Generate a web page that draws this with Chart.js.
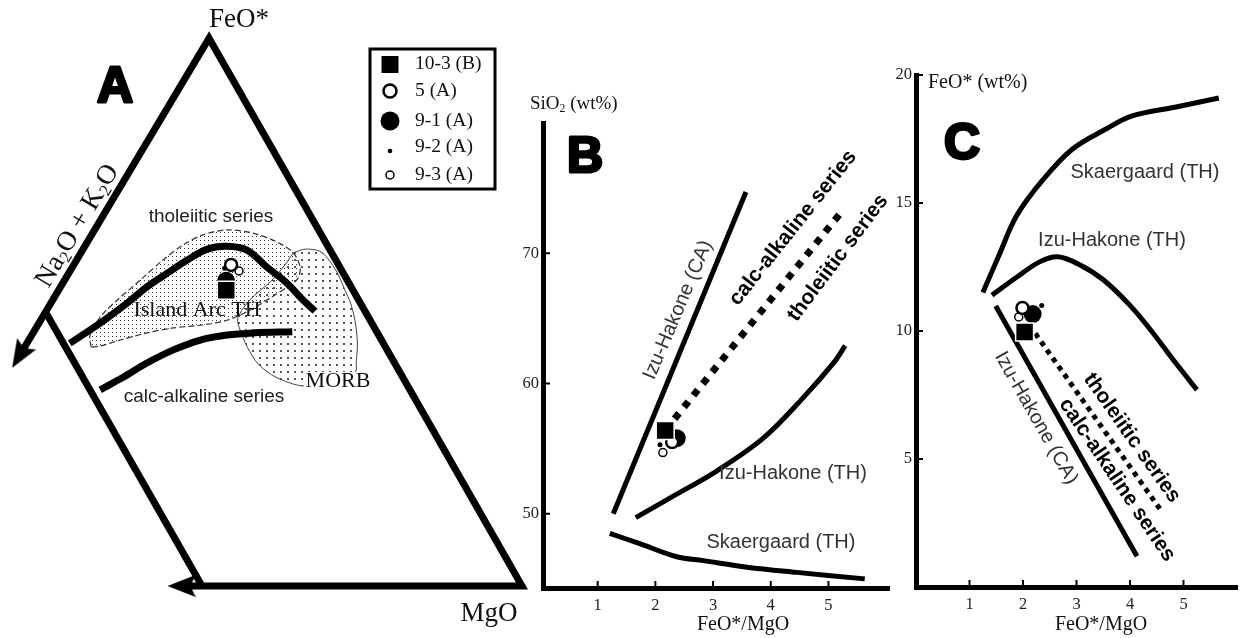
<!DOCTYPE html>
<html>
<head>
<meta charset="utf-8">
<script src="https://cdn.jsdelivr.net/npm/chart.js@4.4.1/dist/chart.umd.min.js"></script>
<style>
body { margin: 0; background: #fff; }
#wrap { position: relative; width: 1246px; height: 638px; overflow: hidden; background: #fff; }
canvas { position: absolute; }
</style>
</head>
<body>
<div id="wrap">
  <canvas id="chartA" width="540" height="638" style="left:0;top:0"></canvas>
  <canvas id="chartB" width="410" height="558" style="left:490px;top:80px"></canvas>
  <canvas id="chartC" width="376" height="598" style="left:870px;top:40px"></canvas>
</div>
<script>
// ---- A: ternary, points as [Na2O+K2O, FeO*, MgO] ----
var thoTrendA = [[49.0,44.3,6.7],[44.7,46.7,8.6],[40.9,48.9,10.2],[36.5,51.6,11.9],[31.9,54.6,13.5],
  [27.5,57.1,15.4],[23.2,59.5,17.3],[19.1,61.5,19.4],[15.8,62.0,22.2],[13.0,61.3,25.7],
  [11.4,58.2,30.4],[9.7,55.3,35.0],[8.7,52.2,39.1],[7.8,50.2,42.0]];
var calcTrendA = [[48.4,35.8,15.8],[43.7,38.1,18.2],[38.7,40.7,20.6],[33.4,43.1,23.5],
  [28.3,44.9,26.8],[23.7,45.8,30.5],[19.4,46.2,34.4],[13.2,46.4,40.4]];
var islandArcA = [[46.0,43.6,10.4],[45.1,45.8,9.1],[41.9,49.1,9.0],[37.7,52.2,10.1],[32.4,55.8,11.8],
  [27.0,59.5,13.5],[22.6,62.2,15.2],[18.5,64.1,17.4],[14.3,65.0,20.7],[10.5,64.4,25.1],[7.6,62.8,29.6],
  [6.0,60.8,33.2],[6.2,58.2,35.6],[7.5,56.2,36.3],[9.4,54.9,35.7],[13.6,52.6,33.8],[17.8,50.4,31.8],
  [22.4,48.5,29.1],[27.0,47.6,25.4],[31.5,47.1,21.4],[36.0,46.2,17.8],[40.8,44.9,14.3],[44.5,43.8,11.7],
  [46.0,43.6,10.4]];
var morbA = [[6.0,60.8,33.2],[3.8,61.5,34.7],[1.7,61.1,37.2],[1.1,59.7,39.2],[0.9,57.3,41.8],
  [1.2,54.4,44.4],[1.6,51.3,47.1],[2.7,47.6,49.7],[4.2,44.0,51.8],[5.9,40.9,53.2],[6.9,39.1,54.0],
  [11.1,36.9,52.0],[16.4,36.5,47.1],[19.8,38.1,42.1],[21.4,40.5,38.1],[21.6,43.6,34.8],[21.2,46.7,32.1],
  [20.5,48.9,30.6],[17.0,52.2,30.8],[11.8,55.8,32.4],[8.4,58.6,33.0],[6.0,60.8,33.2]];
var frameA = [[58,42,0],[0,100,0],[0,0,100],[53.2,0,46.8]];
var cutA = [[50,50,0],[50,0,50]];
var arrowsA = [[58,42,0],[53.2,0,46.8]];

var sampleNames = ['10-3 (B)', '5 (A)', '9-1 (A)', '9-2 (A)', '9-3 (A)'];
var samplesA = [[19.8,54.0,26.2],[16.8,58.6,24.6],[19.0,55.7,25.3],[18.1,58.0,23.9],[16.1,57.5,26.4]];

// ---- B: FeO*/MgO vs SiO2 ----
var samplesB = [[2.17,56.4],[2.29,55.5],[2.37,55.8],[2.08,55.3],[2.13,54.7]];
var izuCaB = [[1.27,50.0],[3.57,74.7]];
var thoTrendB = [[2.17,56.4],[5.23,73.2]];
var izuThB = [[1.66,49.7],[2.25,51.2],[3.07,53.3],[3.87,55.8],[4.56,58.9],[5.11,61.7],[5.29,62.9]];
var skaerB = [[1.21,48.5],[1.73,47.7],[2.37,46.7],[2.83,46.4],[3.59,45.9],[4.45,45.5],[5.63,45.0]];
var ticksBx = [1, 2, 3, 4, 5];
var ticksBy = [50, 60, 70];

// ---- C: FeO*/MgO vs FeO* ----
var samplesC = [[2.03,9.96],[1.99,10.9],[2.18,10.66],[2.35,11.0],[1.92,10.55]];
var skaerC = [[1.25,11.5],[1.56,13.0],[1.88,14.5],[2.37,15.9],[2.92,17.1],[3.56,17.9],[4.04,18.4],[4.86,18.75],[5.66,19.1]];
var izuThC = [[1.42,11.4],[1.88,12.1],[2.31,12.7],[2.65,12.9],[3.05,12.6],[3.5,12.0],[4.0,11.0],[4.4,10.0],[4.8,8.9],[5.25,7.7]];
var izuCaC = [[1.49,10.98],[4.13,1.2]];
var thoTrendC = [[2.23,9.9],[4.6,2.93]];
var ticksCx = [1, 2, 3, 4, 5];
var ticksCy = [5, 10, 15, 20];

var SERIF = '"Liberation Serif", "Times New Roman", serif';
var SANS = '"Liberation Sans", Arial, sans-serif';

Chart.defaults.font.family = SERIF;
Chart.defaults.color = '#222';
Chart.defaults.animation = false;
Chart.defaults.events = [];
Chart.defaults.layout.autoPadding = false;
Chart.defaults.plugins.legend.display = false;
Chart.defaults.plugins.tooltip.enabled = false;

var symStyle = [
  {style: 'rect', r: 12.7, bg: '#000', bc: '#fff', bw: 1.5, order: 0},
  {style: 'circle', r: 6, bg: '#fff', bc: '#000', bw: 2.5, order: 1},
  {style: 'circle', r: 9, bg: '#000', bc: '#000', bw: 0, order: 4},
  {style: 'circle', r: 2.5, bg: '#000', bc: '#000', bw: 0, order: 3},
  {style: 'circle', r: 4, bg: '#fff', bc: '#000', bw: 1.5, order: 2}
];

// ternary -> diagram units (alkali corner at 0,0 ; MgO at 1,0 ; FeO* apex)
var FX = 0.511, FY = 0.856;
function tern(p) {
  var s = p[0] + p[1] + p[2], f = p[1] / s, m = p[2] / s;
  return {x: m + FX * f, y: FY * f};
}
function xy(p) { return {x: p[0], y: p[1]}; }

function line(data, width, extra) {
  return Object.assign({data: data, showLine: true, borderColor: '#000', borderWidth: width,
    pointRadius: 0, borderCapStyle: 'butt', order: 10}, extra || {});
}
function sampleSets(values, conv) {
  return values.map(function (v, i) {
    var s = symStyle[i];
    return {label: sampleNames[i], data: [conv(v)], showLine: false, pointStyle: s.style,
      pointRadius: s.r, pointBackgroundColor: s.bg, pointBorderColor: s.bc,
      pointBorderWidth: s.bw, order: s.order};
  });
}

function dots(step, size, color) {
  var c = document.createElement('canvas');
  c.width = c.height = step;
  var g = c.getContext('2d');
  g.fillStyle = color;
  g.fillRect(0, 0, size, size);
  return g.createPattern(c, 'repeat');
}
function arrowHead() {
  var c = document.createElement('canvas');
  c.width = 22; c.height = 28;
  var g = c.getContext('2d');
  g.fillStyle = '#000';
  g.beginPath(); g.moveTo(11, 0); g.lineTo(22, 28); g.lineTo(11, 23); g.lineTo(0, 28); g.closePath();
  g.fill();
  return c;
}

function put(ctx, s, x, y, font, opt) {
  opt = opt || {};
  ctx.save();
  ctx.translate(x, y);
  if (opt.rot) ctx.rotate(opt.rot * Math.PI / 180);
  ctx.font = font;
  ctx.textAlign = opt.align || 'center';
  ctx.textBaseline = 'middle';
  if (opt.bg) {
    var w = ctx.measureText(s).width;
    ctx.fillStyle = opt.bg;
    ctx.fillRect(-w / 2 - 2, -opt.h / 2, w + 4, opt.h);
  }
  ctx.fillStyle = opt.color || '#111';
  ctx.fillText(s, 0, 0);
  if (opt.heavy) {
    ctx.lineWidth = opt.heavy; ctx.strokeStyle = ctx.fillStyle; ctx.lineJoin = 'round';
    ctx.strokeText(s, 0, 0);
  }
  ctx.restore();
}
// text with subscripts: parts alternate normal / subscript
function chem(ctx, parts, x, y, size, rot, align) {
  ctx.save();
  ctx.translate(x, y);
  if (rot) ctx.rotate(rot * Math.PI / 180);
  ctx.fillStyle = '#111';
  ctx.textBaseline = 'alphabetic';
  ctx.textAlign = 'left';
  var w = 0;
  parts.forEach(function (t, i) {
    ctx.font = (i % 2 ? size * 0.62 : size) + 'px ' + SERIF;
    w += ctx.measureText(t).width;
  });
  var cx = align === 'left' ? 0 : -w / 2;
  parts.forEach(function (t, i) {
    ctx.font = (i % 2 ? size * 0.62 : size) + 'px ' + SERIF;
    ctx.fillText(t, cx, i % 2 ? size * 0.47 : size * 0.33);
    cx += ctx.measureText(t).width;
  });
  ctx.restore();
}
function drawSym(ctx, s, r, x, y) {
  ctx.save();
  ctx.beginPath();
  if (s.style === 'rect') { var h = r * Math.SQRT1_2; ctx.rect(x - h, y - h, 2 * h, 2 * h); }
  else ctx.arc(x, y, r, 0, Math.PI * 2);
  ctx.fillStyle = s.bg; ctx.fill();
  if (s.bw && s.style !== 'rect') { ctx.lineWidth = s.bw; ctx.strokeStyle = s.bc; ctx.stroke(); }
  ctx.restore();
}
function innerTicks(chart, len) {
  var ctx = chart.ctx, a = chart.chartArea, x = chart.scales.x, y = chart.scales.y;
  ctx.save(); ctx.strokeStyle = '#000'; ctx.lineWidth = 2;
  x.ticks.forEach(function (t) {
    var px = x.getPixelForValue(t.value);
    ctx.beginPath(); ctx.moveTo(px, a.bottom); ctx.lineTo(px, a.bottom - len); ctx.stroke();
  });
  y.ticks.forEach(function (t) {
    var py = y.getPixelForValue(t.value);
    ctx.beginPath(); ctx.moveTo(a.left, py); ctx.lineTo(a.left + len, py); ctx.stroke();
  });
  ctx.restore();
}
function axis(min, max, ticks, size, pad) {
  return {
    type: 'linear', min: min, max: max,
    afterFit: function (s) { if (s.isHorizontal()) s.height = size; else s.width = size; },
    afterBuildTicks: function (s) { s.ticks = ticks.map(function (v) { return {value: v}; }); },
    grid: {display: true, drawOnChartArea: false, drawTicks: false, color: 'rgba(0,0,0,0)'},
    border: {display: true, width: 5, color: '#000'},
    ticks: {padding: pad, font: {size: 16.5, family: SERIF}, color: '#222'}
  };
}

// ---------------- Chart A ----------------
var head = arrowHead();
new Chart(document.getElementById('chartA'), {
  type: 'scatter',
  data: {
    datasets: sampleSets(samplesA, tern).concat([
      {data: arrowsA.map(tern), showLine: false, pointStyle: head, pointRotation: [211, -90], order: 5},
      line(frameA.map(tern), 7, {borderJoinStyle: 'miter'}),
      line(cutA.map(tern), 7),
      line(thoTrendA.map(tern), 7, {tension: 0.35}),
      line(calcTrendA.map(tern), 7, {tension: 0.35}),
      line(islandArcA.map(tern), 1.2, {tension: 0.3, borderColor: '#333', borderDash: [6, 3],
        fill: 'shape', backgroundColor: dots(4, 1, '#333'), order: 20}),
      line(morbA.map(tern), 1, {tension: 0.3, borderColor: '#444',
        fill: 'shape', backgroundColor: dots(7, 2, '#555'), order: 21})
    ])
  },
  options: {
    responsive: false,
    layout: {padding: 0, autoPadding: false},
    scales: {
      x: {type: 'linear', display: false, min: 118 / 640, max: 658 / 640},
      y: {type: 'linear', display: false, min: -52 / 640, max: 586 / 640}
    }
  },
  plugins: [{
    id: 'decorA',
    afterDraw: function (chart) {
      var ctx = chart.ctx;
      put(ctx, 'FeO*', 239, 20, '27px ' + SERIF);
      put(ctx, 'MgO', 489, 614, '27px ' + SERIF);
      put(ctx, 'A', 115, 88, 'bold 50px ' + SANS, {heavy: 3, color: '#000'});
      chem(ctx, ['Na', '2', 'O + K', '2', 'O'], 76, 225, 27.5, -59.2);
      put(ctx, 'tholeiitic series', 211, 217, '19px ' + SANS, {color: '#222'});
      put(ctx, 'Island Arc TH', 197, 310, '22px ' + SERIF);
      put(ctx, 'calc-alkaline series', 204, 397, '19px ' + SANS, {color: '#222'});
      put(ctx, 'MORB', 338, 381, '22px ' + SERIF, {bg: '#fff', h: 18});
      // legend box
      ctx.save();
      ctx.lineWidth = 3; ctx.strokeStyle = '#000';
      ctx.strokeRect(370, 49, 125, 140);
      ctx.restore();
      var ly = [64.5, 91, 121, 151, 175], lr = [12, 6.5, 9.5, 2.3, 4], ty = [64, 91, 121, 147, 175];
      sampleNames.forEach(function (n, i) {
        drawSym(ctx, symStyle[i], lr[i], 390, ly[i]);
        put(ctx, n, 415, ty[i], '19.5px ' + SERIF, {align: 'left'});
      });
    }
  }]
});

// ---------------- Chart B ----------------
new Chart(document.getElementById('chartB'), {
  type: 'scatter',
  data: {
    datasets: sampleSets(samplesB, xy).concat([
      line(thoTrendB.map(xy), 7, {borderDash: [7, 8]}),
      line(izuCaB.map(xy), 5),
      line(izuThB.map(xy), 5, {tension: 0.35}),
      line(skaerB.map(xy), 5, {tension: 0.35})
    ])
  },
  options: {
    responsive: false,
    layout: {padding: {top: 43, right: 11, left: 0, bottom: 0}, autoPadding: false},
    scales: {
      x: axis(0.052, 6.05, ticksBx, 50, 8),
      y: axis(44.3, 80, ticksBy, 53, 4)
    }
  },
  plugins: [{
    id: 'decorB',
    afterDraw: function (chart) {
      var ctx = chart.ctx;
      innerTicks(chart, 7);
      ctx.save();
      ctx.translate(-490, -80);
      chem(ctx, ['SiO', '2', ' (wt%)'], 530, 103, 19, 0, 'left');
      put(ctx, 'B', 585, 158, 'bold 50px ' + SANS, {heavy: 3, color: '#000'});
      put(ctx, 'Izu-Hakone (CA)', 678, 310, '20px ' + SANS, {rot: -67, color: '#333'});
      put(ctx, 'calc-alkaline series', 793, 228, 'bold 21px ' + SANS, {rot: -51.5, color: '#000'});
      put(ctx, 'tholeiitic series', 838, 258, 'bold 21px ' + SANS, {rot: -53, color: '#000'});
      put(ctx, 'Izu-Hakone (TH)', 793, 473, '20px ' + SANS, {color: '#333'});
      put(ctx, 'Skaergaard (TH)', 781, 542, '20px ' + SANS, {color: '#333'});
      put(ctx, 'FeO*/MgO', 743, 625, '20px ' + SERIF);
      ctx.restore();
    }
  }]
});

// ---------------- Chart C ----------------
new Chart(document.getElementById('chartC'), {
  type: 'scatter',
  data: {
    datasets: sampleSets(samplesC, xy).concat([
      line(thoTrendC.map(xy), 5, {borderDash: [5, 5]}),
      line(izuCaC.map(xy), 5),
      line(izuThC.map(xy), 5, {tension: 0.35}),
      line(skaerC.map(xy), 5, {tension: 0.35})
    ])
  },
  options: {
    responsive: false,
    layout: {padding: {top: 35, right: 9, left: 0, bottom: 0}, autoPadding: false},
    scales: {
      x: axis(0, 6, ticksCx, 51, 8),
      y: axis(0, 20, ticksCy, 46, 4)
    }
  },
  plugins: [{
    id: 'decorC',
    afterDraw: function (chart) {
      var ctx = chart.ctx;
      innerTicks(chart, 7);
      ctx.save();
      ctx.translate(-870, -40);
      put(ctx, 'FeO* (wt%)', 928, 83, '20px ' + SERIF, {align: 'left'});
      put(ctx, 'C', 962, 145, 'bold 50px ' + SANS, {heavy: 3, color: '#000'});
      put(ctx, 'Skaergaard (TH)', 1145, 172, '20px ' + SANS, {color: '#333'});
      put(ctx, 'Izu-Hakone (TH)', 1112, 240, '20px ' + SANS, {color: '#333'});
      put(ctx, 'Izu-Hakone (CA)', 1036, 418, '20px ' + SANS, {rot: 60.4, color: '#333'});
      put(ctx, 'tholeiitic series', 1132, 438, 'bold 21px ' + SANS, {rot: 54.8, color: '#000'});
      put(ctx, 'calc-alkaline series', 1117, 480, 'bold 21px ' + SANS, {rot: 56, color: '#000'});
      put(ctx, 'FeO*/MgO', 1101, 625, '20px ' + SERIF);
      ctx.restore();
    }
  }]
});
</script>
</body>
</html>
